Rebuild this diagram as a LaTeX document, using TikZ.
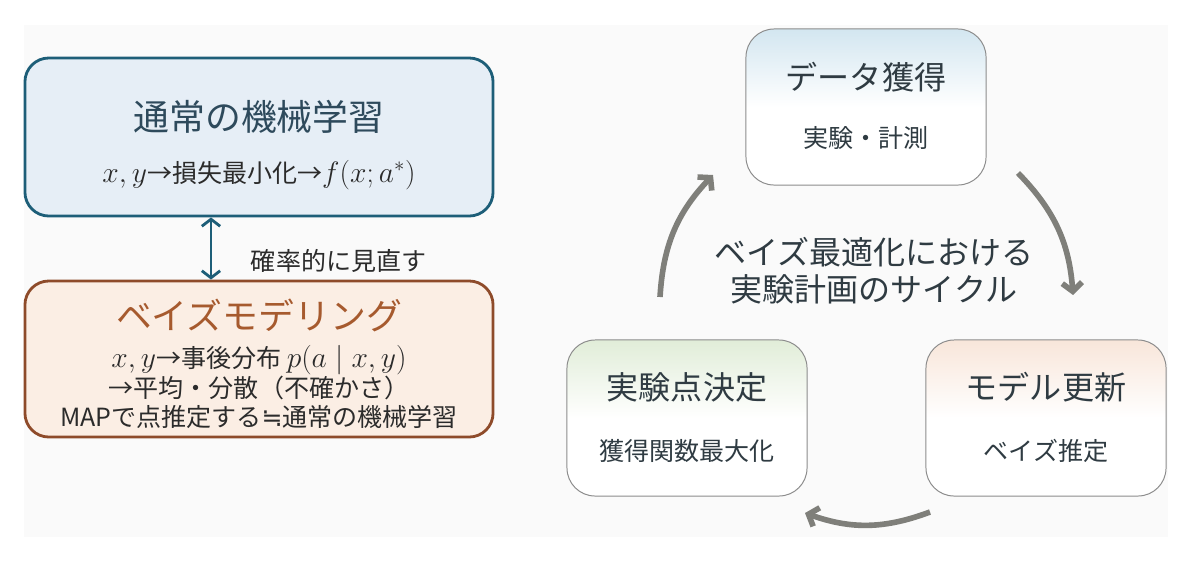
\documentclass[tikz,border=0pt]{standalone}
\usepackage{fix-cm}
\usepackage[no-math]{fontspec}
\setmainfont{Noto Sans CJK JP}
\newfontfamily\symfont{DejaVu Sans}
\usepackage{tikz}
\usetikzlibrary{arrows.meta}

\definecolor{panelbg}{HTML}{FAFAFA}
\definecolor{tealline}{HTML}{1D5E78}
\definecolor{tealfill}{HTML}{E6EEF6}
\definecolor{tealtext}{HTML}{2E4A5C}
\definecolor{brownline}{HTML}{8E4B2A}
\definecolor{brownfill}{HTML}{FBEEE4}
\definecolor{browntext}{HTML}{A65A2E}
\definecolor{bodytext}{HTML}{2B2B2B}
\definecolor{cyctext}{HTML}{2F3B42}
\definecolor{cycgray}{HTML}{7F7F7A}
\definecolor{cycline}{HTML}{8C8C8C}
\definecolor{acqtop}{HTML}{D3E6F0}
\definecolor{dectop}{HTML}{E1EDD8}
\definecolor{updtop}{HTML}{F8E6DA}

\newcommand{\bigttl}{\fontsize{25.5}{30}\selectfont}
\newcommand{\midttl}{\fontsize{22.8}{26.3}\selectfont}
\newcommand{\smltxt}{\fontsize{17.8}{20.4}\selectfont}
\newcommand{\mathtxt}[1]{{\fontsize{21}{24}\selectfont$#1$}}

\begin{document}
\begin{tikzpicture}[x=0.025cm, y=-0.025cm,
    mlbox/.style={draw=tealline, line width=2pt, fill=tealfill, rounded corners=17pt,
      minimum width=11.7cm, minimum height=3.95cm},
    bmbox/.style={draw=brownline, line width=2pt, fill=brownfill, rounded corners=17pt,
      minimum width=11.7cm, minimum height=3.9cm},
    cycbox/.style={draw=cycline, line width=0.7pt, rounded corners=20pt,
      minimum width=6cm, minimum height=3.9cm,
      top color=#1, bottom color=white, middle color=white},
    cycarrow/.style={draw=cycgray, line width=4pt,
      -{Straight Barb[length=6pt,width=14pt]}, bend left=20},
    linkarrow/.style={draw=tealline, line width=2pt,
      >={Straight Barb[length=5pt,width=13pt]}, <->}]

    \useasboundingbox (0,0) rectangle (1200,560);
    \fill[panelbg] (24,25) rectangle (1168,537);

    % left side
    \node[mlbox] (ml) at (259,137) {};
    \node[text=tealtext, font=\bigttl] (mltitle) at (259,117) {通常の機械学習};
    \node[text=bodytext, font=\smltxt] (mlsub) at (259,175)
      {\mathtxt{x,y}→損失最小化→\mathtxt{f(x;a^{*})}};

    \node[bmbox] (bm) at (259,359) {};
    \node[text=browntext, font=\bigttl] (bmtitle) at (259,315) {ベイズモデリング};
    \node[text=bodytext, font=\smltxt, align=center] (bmbody) at (259,387)
      {\mathtxt{x,y}→事後分布 \mathtxt{p(a\mid x,y)}\\→平均・分散（不確かさ）\\MAPで点推定する{\symfont ≒}通常の機械学習};

    \draw[linkarrow] ([xshift=-1.2cm]ml.south) -- ([xshift=-1.2cm]bm.north);
    \node[text=bodytext, font=\smltxt, anchor=west] (revisit) at (246,261) {確率的に見直す};

    % right side: cycle
    \node[cycbox=acqtop] (acq) at (866,107) {};
    \node[text=cyctext, font=\midttl] (acqtitle) at (866,77) {データ獲得};
    \node[text=cyctext, font=\smltxt] (acqsub) at (866,138) {実験・計測};

    \node[cycbox=dectop] (dec) at (687,418) {};
    \node[text=cyctext, font=\midttl] (dectitle) at (687,387) {実験点決定};
    \node[text=cyctext, font=\smltxt] (decsub) at (687,451) {獲得関数最大化};

    \node[cycbox=updtop] (upd) at (1046,418) {};
    \node[text=cyctext, font=\midttl] (updtitle) at (1046,387) {モデル更新};
    \node[text=cyctext, font=\smltxt] (updsub) at (1046,451) {ベイズ推定};

    \node[text=cyctext, font=\midttl, align=center] (cyc) at (874,271)
      {ベイズ最適化における\\実験計画のサイクル};

    \coordinate (d2a) at (660,297);
    \coordinate (a2d) at (713,175);
    \coordinate (a2u) at (1018,173);
    \coordinate (u2a) at (1073,295);
    \coordinate (u2d) at (930,512);
    \coordinate (d2u) at (805,513);

    \draw[cycarrow] (d2a) to (a2d);
    \draw[cycarrow] (a2u) to (u2a);
    \draw[cycarrow] (u2d) to (d2u);
\end{tikzpicture}
\end{document}
